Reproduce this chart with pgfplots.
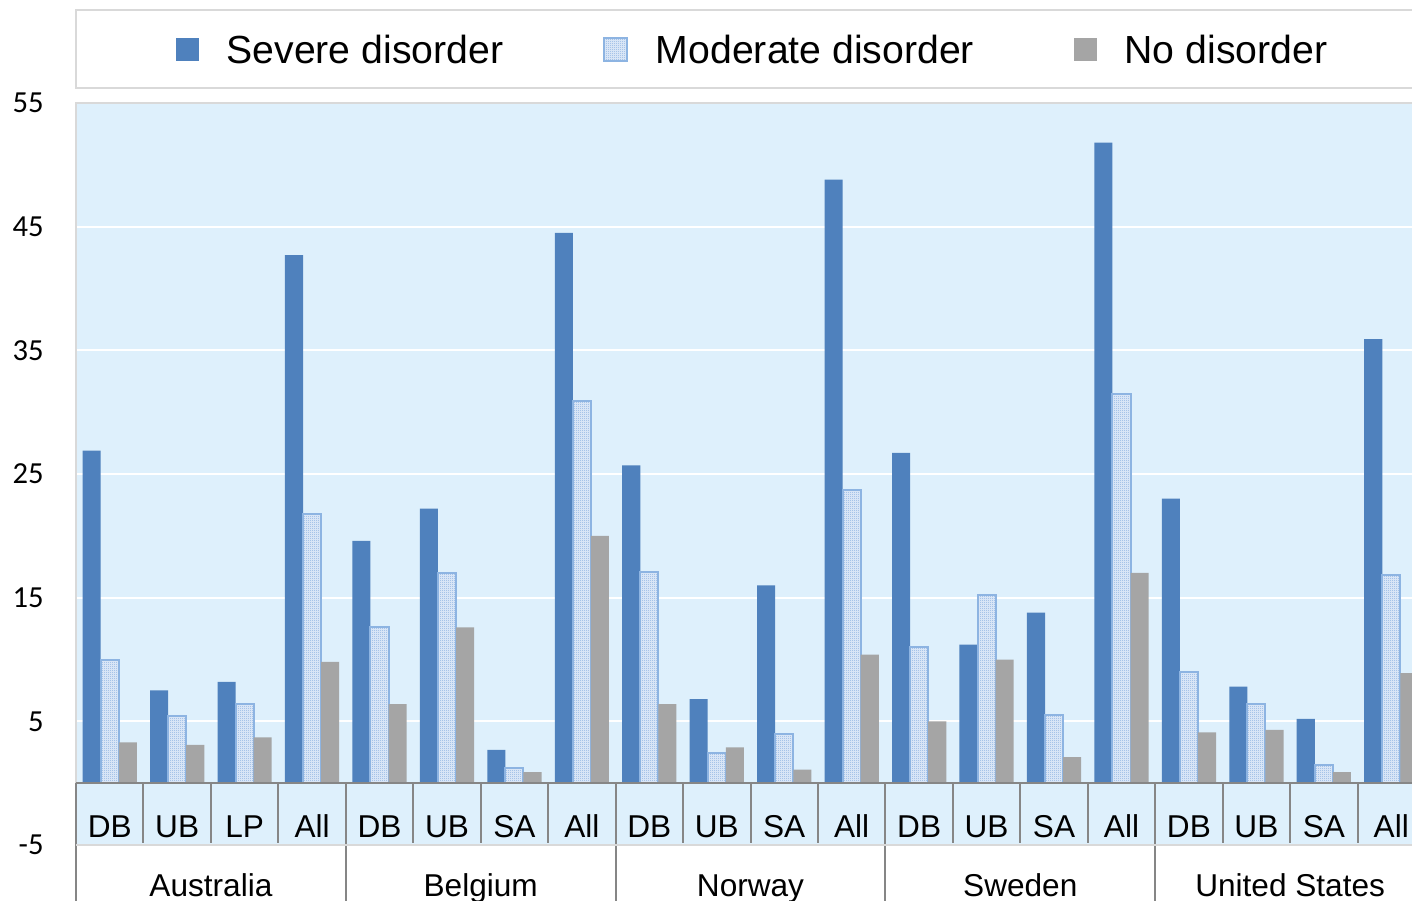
\documentclass[border=0pt]{standalone}
\usepackage{pgfplots}
\pgfplotsset{compat=1.18}
\usepackage{fontspec}
\setmainfont{Liberation Sans}
\newfontfamily\carlito{Carlito}
\usetikzlibrary{patterns}
\definecolor{sevblue}{HTML}{4F81BD}
\definecolor{modborder}{HTML}{8DB4E2}
\definecolor{patblue}{HTML}{86ACDF}
\definecolor{modfill}{HTML}{E4EEFA}
\definecolor{nonegray}{HTML}{A5A5A5}
\definecolor{bgblue}{HTML}{DEF0FC}
\definecolor{bordergray}{HTML}{D9D9D9}
\definecolor{axisgray}{HTML}{868686}
\pgfdeclarepatternformonly{fineck}{\pgfqpoint{0pt}{0pt}}{\pgfqpoint{1pt}{1pt}}{\pgfqpoint{1pt}{1pt}}{%
  \pgfpathrectangle{\pgfqpoint{0pt}{0pt}}{\pgfqpoint{0.5pt}{0.5pt}}%
  \pgfpathrectangle{\pgfqpoint{0.5pt}{0.5pt}}{\pgfqpoint{0.5pt}{0.5pt}}%
  \pgfusepath{fill}}

\pgfplotstableread{
x severe moderate none
0  26.9 10.0 3.3
1  7.5  5.4  3.1
2  8.2  6.4  3.7
3  42.7 21.8 9.8
4  19.6 12.6 6.4
5  22.2 17.0 12.6
6  2.7  1.2  0.9
7  44.5 30.9 20.0
8  25.7 17.1 6.4
9  6.8  2.4  2.9
10 16.0 4.0  1.1
11 48.8 23.7 10.4
12 26.7 11.0 5.0
13 11.2 15.2 10.0
14 13.8 5.5  2.1
15 51.8 31.5 17.0
16 23.0 9.0  4.1
17 7.8  6.4  4.3
18 5.2  1.5  0.9
19 35.9 16.8 8.9
}\datatable

\pgfplotsset{legsq/.style={legend image code/.code={\path[##1] (0pt,-5pt) rectangle (11.5pt,6.5pt);}}}

\begin{document}
\begin{tikzpicture}
\useasboundingbox (0,0) rectangle (706pt,450pt);
\begin{scope}
\clip (0,0) rectangle (706pt,450pt);
\filldraw[fill=white, draw=bordergray, line width=1pt] (38pt,406pt) rectangle (720pt,445pt);
\begin{axis}[
  at={(38pt,27.5pt)}, anchor=south west,
  scale only axis, width=674.5pt, height=371pt,
  xmin=-0.5, xmax=19.5, ymin=-5, ymax=55,
  ytick={-5,5,15,25,35,45,55},
  xtick={0,...,19},
  xticklabels={DB,UB,LP,All,DB,UB,SA,All,DB,UB,SA,All,DB,UB,SA,All,DB,UB,SA,All},
  major tick length=0pt,
  ymajorgrids, grid style={white, line width=1pt},
  axis background/.style={fill=bgblue},
  axis line style={draw=bordergray, line width=1pt},
  clip=false,
  ybar=0pt, bar width=0.268,
  /pgf/number format/assume math mode=true,
  yticklabel style={font=\carlito\fontsize{15.3}{18}\selectfont, anchor=east, inner sep=0pt, xshift=-16pt},
  xticklabel style={font=\fontsize{15.8}{18}\selectfont, anchor=base, inner sep=0pt, yshift=4pt},
  legend columns=3,
  legend style={at={(axis description cs:0,1)}, anchor=west, xshift=50pt, yshift=26pt,
    draw=none, fill=none, inner sep=0pt, outer sep=0pt,
    font=\fontsize{19.6}{22}\selectfont,
    nodes={inner sep=0pt},
    /tikz/every odd column/.append style={column sep=13.8pt},
    /tikz/every even column/.append style={column sep=50pt}},
]
\addplot[fill=sevblue, draw=none, bar shift=-0.268, legsq] table[x=x, y=severe] {\datatable};
\addlegendentry{Severe disorder}
\addplot[fill=modfill, draw=modborder, line width=1pt, bar shift=0, postaction={pattern=fineck, pattern color=patblue}, legsq] table[x=x, y=moderate] {\datatable};
\addlegendentry{Moderate disorder}
\addplot[fill=nonegray, draw=none, bar shift=0.268, legsq] table[x=x, y=none] {\datatable};
\addlegendentry{No disorder}
\draw[axisgray, line width=1pt] (axis cs:-0.5,0) -- (axis cs:19.5,0);
\pgfplotsinvokeforeach{0.5,1.5,2.5,4.5,5.5,6.5,8.5,9.5,10.5,12.5,13.5,14.5,16.5,17.5,18.5}{
  \draw[axisgray, line width=1pt] (axis cs:#1,0) -- (axis cs:#1,-4.8);
}
\pgfplotsinvokeforeach{-0.5,3.5,7.5,11.5,15.5}{
  \draw[axisgray, line width=1pt] (axis cs:#1,0) -- ++(0pt,-70pt);
}
\draw[bordergray, line width=1pt] (axis cs:-0.5,-5) -- (axis cs:19.5,-5);
\node[font=\fontsize{15.8}{18}\selectfont, anchor=base, yshift=-25.5pt] at (axis cs:1.5,-5) {Australia};
\node[font=\fontsize{15.8}{18}\selectfont, anchor=base, yshift=-25.5pt] at (axis cs:5.5,-5) {Belgium};
\node[font=\fontsize{15.8}{18}\selectfont, anchor=base, yshift=-25.5pt] at (axis cs:9.5,-5) {Norway};
\node[font=\fontsize{15.8}{18}\selectfont, anchor=base, yshift=-25.5pt] at (axis cs:13.5,-5) {Sweden};
\node[font=\fontsize{15.8}{18}\selectfont, anchor=base, yshift=-25.5pt] at (axis cs:17.5,-5) {United States};
\end{axis}
\end{scope}
\end{tikzpicture}
\end{document}
